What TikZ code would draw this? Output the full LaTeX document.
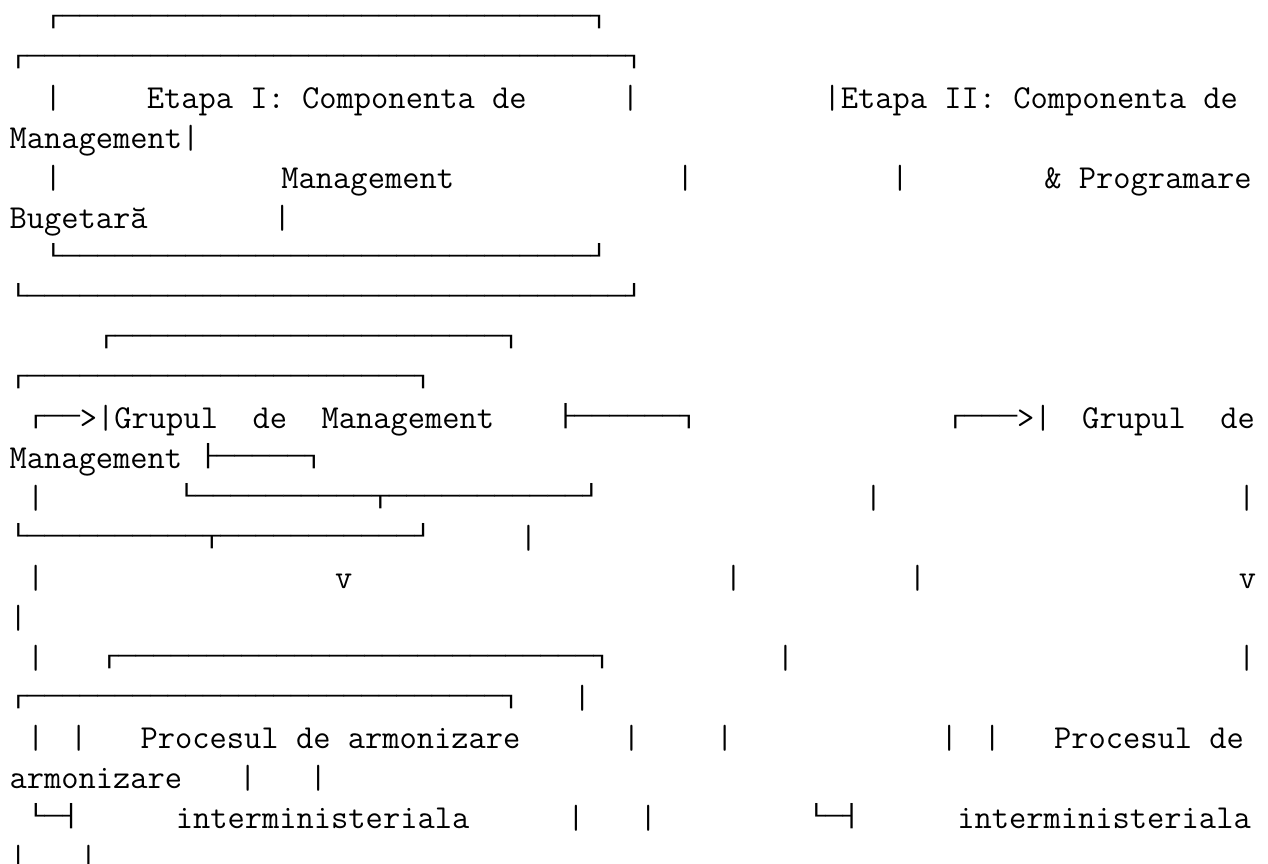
\documentclass[tikz,border=0pt]{standalone}
\usepackage{fontspec}
\newfontfamily\boxfont{DejaVu Sans Mono}[FakeStretch=1.3703]
\def\bx#1{\raisebox{3.7pt}{\boxfont\bfseries\fontsize{16}{16}\selectfont #1}}
\def\hl#1{\foreach\hlidx in {1,...,#1}{─}}

\begin{document}
\begin{tikzpicture}[x=13.2pt, y=-30pt,
    txt/.style={anchor=base west, inner sep=0pt, outer sep=0pt,
      font=\ttfamily\fontsize{25.143}{30}\selectfont}]
		\useasboundingbox (-0.54,-0.7075) rectangle (71.505,20.8675);
		
		%%%%% ETAPA I / ETAPA II %%%%%
		\node[txt] (l0)  at (2,0)      {\bx{┌\hl{30}┐}};
		\node[txt] (l1)  at (0,1)      {\bx{┌\hl{34}┐}};
		\node[txt] (l2a) at (2,2)      {|};
		\node[txt] (l2b) at (7.8,2)    {Etapa I: Componenta de};
		\node[txt] (l2c) at (34.8,2)   {|};
		\node[txt] (l2d) at (46.25,2)  {|Etapa II: Componenta de};
		\node[txt] (l3)  at (0,3)      {Management|};
		\node[txt] (l4a) at (2,4)      {|};
		\node[txt] (l4b) at (15.45,4)  {Management};
		\node[txt] (l4c) at (37.9,4)   {|};
		\node[txt] (l4d) at (50.1,4)   {|};
		\node[txt] (l4e) at (58.8,4)   {\&~Programare};
		\node[txt] (l5a) at (0,5)      {Bugetară};
		\node[txt] (l5b) at (15,5)     {|};
		\node[txt] (l6)  at (2,6)      {\bx{└\hl{30}┘}};
		\node[txt] (l7)  at (0,7)      {\bx{└\hl{34}┘}};
		
		%%%%% GRUPUL DE MANAGEMENT %%%%%
		\node[txt] (l8)   at (5,8)     {\bx{┌\hl{22}┐}};
		\node[txt] (l9)   at (0,9)     {\bx{┌\hl{22}┐}};
		\node[txt] (l10a) at (1,10)    {\bx{┌──}>|Grupul~~de~~Management};
		\node[txt] (l10b) at (31.1,10) {\bx{├\hl{6}┐}};
		\node[txt] (l10c) at (53.25,10) {\bx{┌───}>|};
		\node[txt] (l10d) at (60.95,10) {Grupul~~de};
		\node[txt] (l11)  at (0,11)    {Management~\bx{├\hl{5}┐}};
		\node[txt] (l12a) at (1,12)    {|};
		\node[txt] (l12b) at (9.57,12) {\bx{└\hl{10}┬\hl{11}┘}};
		\node[txt] (l12c) at (48.6,12) {|};
		\node[txt] (l12d) at (69.8,12) {|};
		\node[txt] (l13a) at (0,13)    {\bx{└\hl{10}┬\hl{11}┘}};
		\node[txt] (l13b) at (29,13)   {|};
		\node[txt] (l14a) at (1,14)    {|};
		\node[txt] (l14b) at (18.5,14) {v};
		\node[txt] (l14c) at (40.65,14) {|};
		\node[txt] (l14d) at (51.1,14) {|};
		\node[txt] (l14e) at (69.85,14) {v};
		\node[txt] (l15)  at (0,15)    {|};
		
		%%%%% PROCESUL DE ARMONIZARE %%%%%
		\node[txt] (l16a) at (1,16)    {|};
		\node[txt] (l16b) at (5.18,16) {\bx{┌\hl{27}┐}};
		\node[txt] (l16c) at (43.6,16) {|};
		\node[txt] (l16d) at (69.8,16) {|};
		\node[txt] (l17a) at (0,17)    {\bx{┌\hl{27}┐}};
		\node[txt] (l17b) at (32.05,17) {|};
		\node[txt] (l18a) at (1,18)    {|};
		\node[txt] (l18b) at (3.45,18) {|};
		\node[txt] (l18c) at (7.45,18) {Procesul de armonizare};
		\node[txt] (l18d) at (34.85,18) {|};
		\node[txt] (l18e) at (40.15,18) {|};
		\node[txt] (l18f) at (52.9,18) {|};
		\node[txt] (l18g) at (55.35,18) {|};
		\node[txt] (l18h) at (59.35,18) {Procesul de};
		\node[txt] (l19a) at (0,19)    {armonizare};
		\node[txt] (l19b) at (13.05,19) {|};
		\node[txt] (l19c) at (17.05,19) {|};
		\node[txt] (l20a) at (1,20)    {\bx{└─┤}};
		\node[txt] (l20b) at (9.45,20) {interministeriala};
		\node[txt] (l20c) at (31.7,20) {|};
		\node[txt] (l20d) at (35.8,20) {|};
		\node[txt] (l20e) at (45.35,20) {\bx{└─┤}};
		\node[txt] (l20f) at (53.85,20) {interministeriala};
		\node[txt] (l21a) at (0,21)    {|};
		\node[txt] (l21b) at (4,21)    {|};
		
		%%%%% END %%%%%
\end{tikzpicture}
\end{document}
